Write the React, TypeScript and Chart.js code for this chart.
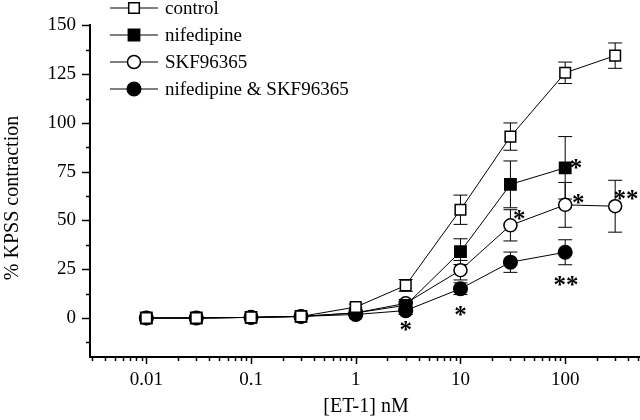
import React, { useEffect, useRef } from 'react';
import { Chart, registerables } from 'chart.js';

Chart.register(...registerables);

// ---- data ----
const concentrations = [0.01, 0.03, 0.1, 0.3, 1, 3, 10, 30, 100, 300];
const seriesLabels = ['control', 'nifedipine', 'SKF96365', 'nifedipine & SKF96365'];

const controlValues = [0, 0, 0.3, 0.8, 5.6, 16.7, 55.5, 93, 125.7, 134.5];
const controlErrors = [0, 0, 0, 0.5, 1.5, 3, 7.5, 7, 5.5, 6.5];

const nifedipineValues = [0, 0, 0.3, 0.8, 2.6, 6.5, 34, 68.5, 77];
const nifedipineErrors = [0, 0, 0, 0.5, 1, 2, 6.6, 12, 16];

const skfValues = [0, 0, 0.3, 0.8, 2.6, 7.5, 24.5, 47.5, 58, 57.3];
const skfErrors = [0, 0, 0, 0.5, 1, 2, 5, 8, 11.5, 13.3];

const comboValues = [0, 0, 0.3, 0.8, 1.8, 3.8, 15, 28.6, 33.7];
const comboErrors = [0, 0, 0, 0.5, 1, 2, 3, 5.2, 6.4];

const xTickLabels = ['0.01', '0.1', '1', '10', '100'];
const yTickLabels = ['0', '25', '50', '75', '100', '125', '150'];

// significance markers (data coordinates)
const starX = [3, 10, 36.5, 127, 133, 381, 102];
const starY = [-3.5, 4.3, 53.5, 79.3, 61.5, 63.7, 19.6];
const starText = ['*', '*', '*', '*', '*', '**', '**'];

const xTitle = '[ET-1] nM';
const yTitle = '% KPSS contraction';

const FONT = "'Liberation Serif', 'Times New Roman', serif";

const pointStyles = ['rect', 'rect', 'circle', 'circle'];
const pointFills = ['#ffffff', '#000000', '#ffffff', '#000000'];
const pointRadii = [7.5, 8, 6.5, 6.8];
const errorSets = [controlErrors, nifedipineErrors, skfErrors, comboErrors];
const valueSets = [controlValues, nifedipineValues, skfValues, comboValues];

function drawMarker(ctx: CanvasRenderingContext2D, style: string, x: number, y: number, r: number, fill: string) {
  ctx.save();
  ctx.fillStyle = fill;
  ctx.strokeStyle = '#000';
  ctx.lineWidth = 1.5;
  ctx.beginPath();
  if (style === 'rect') {
    const s = Math.SQRT1_2 * r;
    ctx.rect(x - s, y - s, 2 * s, 2 * s);
  } else {
    ctx.arc(x, y, r, 0, Math.PI * 2);
  }
  ctx.fill();
  ctx.stroke();
  ctx.restore();
}

const customPlugin = {
  id: 'customDecor',
  beforeDatasetsDraw(chart: any) {
    const ctx = chart.ctx as CanvasRenderingContext2D;
    const xs = chart.scales.x;
    const ys = chart.scales.y;
    ctx.save();
    ctx.strokeStyle = '#000';
    ctx.lineWidth = 1;
    errorSets.forEach((errs, di) => {
      const vals = valueSets[di];
      vals.forEach((v, i) => {
        const e = errs[i];
        if (!e) return;
        const px = xs.getPixelForValue(concentrations[i]);
        const top = ys.getPixelForValue(v + e);
        const bot = ys.getPixelForValue(v - e);
        ctx.beginPath();
        ctx.moveTo(px, top);
        ctx.lineTo(px, bot);
        ctx.moveTo(px - 7, top);
        ctx.lineTo(px + 7, top);
        ctx.moveTo(px - 7, bot);
        ctx.lineTo(px + 7, bot);
        ctx.stroke();
      });
    });
    ctx.restore();
  },
  afterDraw(chart: any) {
    const ctx = chart.ctx as CanvasRenderingContext2D;
    const xs = chart.scales.x;
    const ys = chart.scales.y;
    const area = chart.chartArea;
    ctx.save();
    ctx.strokeStyle = '#000';
    ctx.lineWidth = 1.5;
    // x tick marks
    const e0 = Math.floor(Math.log10(xs.min));
    const e1 = Math.ceil(Math.log10(xs.max));
    for (let e = e0; e <= e1; e++) {
      for (let m = 1; m <= 9; m++) {
        const v = m * Math.pow(10, e);
        if (v < xs.min * 0.999 || v > xs.max) continue;
        const px = Math.round(xs.getPixelForValue(v)) + 0.5;
        const len = m === 1 ? 7 : 4;
        ctx.beginPath();
        ctx.moveTo(px, area.bottom);
        ctx.lineTo(px, area.bottom + len);
        ctx.stroke();
      }
    }
    // y tick marks
    for (let v = Math.ceil(ys.min / 12.5) * 12.5; v <= ys.max + 0.01; v += 12.5) {
      const py = Math.round(ys.getPixelForValue(v)) + 0.5;
      const major = Math.abs(v % 25) < 0.01;
      const len = major ? 8 : 4;
      ctx.beginPath();
      ctx.moveTo(area.left, py);
      ctx.lineTo(area.left - len, py);
      ctx.stroke();
    }

    // titles
    ctx.fillStyle = '#000';
    ctx.font = `20px ${FONT}`;
    ctx.textAlign = 'center';
    ctx.textBaseline = 'middle';
    ctx.fillText(xTitle, 366, 407);
    ctx.save();
    ctx.translate(13, 198);
    ctx.rotate(-Math.PI / 2);
    ctx.fillText(yTitle, 0, 0);
    ctx.restore();

    // significance stars
    ctx.font = `bold 25px ${FONT}`;
    ctx.textAlign = 'center';
    ctx.textBaseline = 'alphabetic';
    starX.forEach((sx, i) => {
      const px = xs.getPixelForValue(sx);
      const py = ys.getPixelForValue(starY[i]);
      ctx.fillText(starText[i], px, py + 13);
    });

    // legend
    ctx.font = `19px ${FONT}`;
    ctx.textAlign = 'left';
    ctx.textBaseline = 'middle';
    chart.data.datasets.forEach((ds: any, i: number) => {
      const y = 8 + i * 27;
      ctx.lineWidth = 1;
      ctx.beginPath();
      ctx.moveTo(110, y);
      ctx.lineTo(158, y);
      ctx.stroke();
      drawMarker(ctx, pointStyles[i], 134, y, pointRadii[i], pointFills[i]);
      ctx.fillStyle = '#000';
      ctx.fillText(ds.label, 165, y + 1);
    });
    ctx.restore();
  },
};

export default function App() {
  const ref = useRef<HTMLCanvasElement | null>(null);

  useEffect(() => {
    document.body.style.margin = '0';
    const canvas = ref.current;
    if (!canvas) return;
    Chart.defaults.font.family = FONT;
    Chart.defaults.color = '#000';

    const datasets = valueSets.map((vals, di) => ({
      label: seriesLabels[di],
      data: vals.map((v, i) => ({ x: concentrations[i], y: v })),
      borderColor: '#000',
      borderWidth: 1,
      tension: 0,
      fill: false,
      clip: false,
      pointStyle: pointStyles[di],
      pointRadius: pointRadii[di],
      pointHoverRadius: pointRadii[di],
      pointBackgroundColor: pointFills[di],
      pointBorderColor: '#000',
      pointBorderWidth: 1.5,
    }));

    const chart = new Chart(canvas, {
      type: 'line',
      data: { datasets },
      options: {
        responsive: false,
        maintainAspectRatio: false,
        animation: false,
        layout: { autoPadding: false, padding: { top: 16, right: 0, left: 0, bottom: 0 } },
        plugins: {
          legend: { display: false },
          tooltip: { enabled: false },
          title: { display: false },
        },
        scales: {
          x: {
            type: 'logarithmic',
            min: 0.0029,
            max: 518,
            grid: { display: false, drawTicks: false, drawOnChartArea: false },
            border: { display: true, color: '#000', width: 2 },
            ticks: {
              autoSkip: false,
              maxRotation: 0,
              minRotation: 0,
              padding: 12,
              font: { size: 19, family: FONT },
              color: '#000',
              callback: (value: any) => {
                const v = Number(value);
                const l = Math.log10(v);
                if (Math.abs(l - Math.round(l)) < 1e-9) {
                  const s = String(Number(v.toPrecision(6)));
                  return xTickLabels.includes(s) ? s : '';
                }
                return '';
              },
            },
            afterFit: (scale: any) => {
              scale.height = 63;
              scale.paddingRight = 0;
              scale.paddingLeft = 0;
            },
          },
          y: {
            type: 'linear',
            min: -20,
            max: 150,
            grid: { display: false, drawTicks: false, drawOnChartArea: false },
            border: { display: true, color: '#000', width: 2 },
            ticks: {
              stepSize: 12.5,
              autoSkip: false,
              padding: 14,
              font: { size: 19, family: FONT },
              color: '#000',
              callback: (value: any) => {
                const s = String(Number(value));
                return yTickLabels.includes(s) ? s : '';
              },
            },
            afterFit: (scale: any) => {
              scale.width = 90;
            },
          },
        },
      },
      plugins: [customPlugin],
    } as any);

    return () => chart.destroy();
  }, []);

  return <canvas ref={ref} width={640} height={420} style={{ display: 'block' }} />;
}
